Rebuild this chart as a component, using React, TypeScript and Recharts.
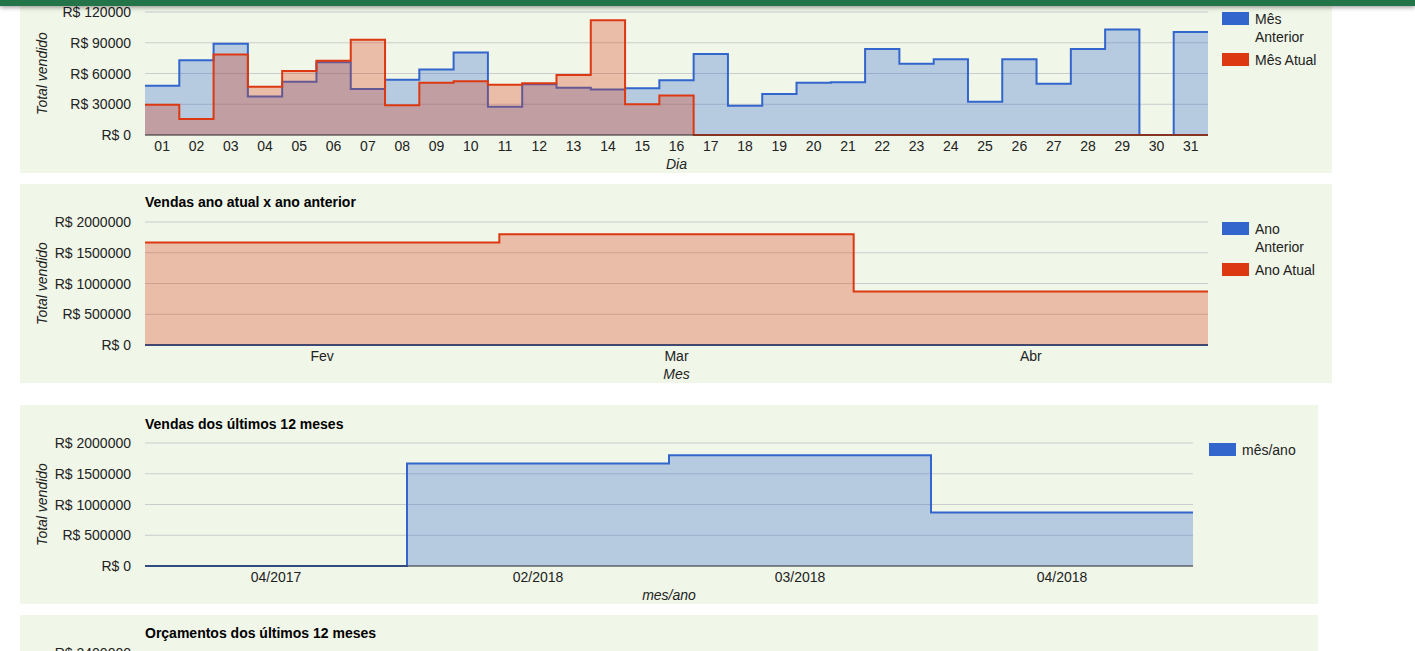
import React from "react";
import { AreaChart, Area, XAxis, YAxis, CartesianGrid, ReferenceLine } from "recharts";

const FONT = "Arial, 'Liberation Sans', sans-serif";
const BG = "#f0f6e8";
const AZUL = "#3366cc";
const VERMELHO = "#dc3912";
const TEXTO = "#222222";

// vendas por dia (mês anterior x mês atual)
const dias = [
  "01", "02", "03", "04", "05", "06", "07", "08", "09", "10",
  "11", "12", "13", "14", "15", "16", "17", "18", "19", "20",
  "21", "22", "23", "24", "25", "26", "27", "28", "29", "30", "31",
];
const mesAnterior = [
  48000, 73000, 89000, 37500, 52000, 71000, 45000, 54000, 64000, 80500,
  27500, 49500, 46000, 44500, 45500, 53500, 79000, 28500, 40000, 51000,
  51500, 84000, 69500, 74000, 32500, 74000, 50000, 84000, 103000, 0, 100500,
];
const mesAtual = [
  29500, 15500, 78500, 47000, 62500, 72500, 93000, 29000, 51000, 52500,
  49000, 50500, 58500, 112000, 30000, 38500, 0, 0, 0, 0,
  0, 0, 0, 0, 0, 0, 0, 0, 0, 0, 0,
];
const ticksDia = [0, 30000, 60000, 90000, 120000];

// ano atual x ano anterior
const meses = ["Fev", "Mar", "Abr"];
const anoAnterior = [0, 0, 0];
const anoAtual = [1665000, 1800000, 870000];
const ticksAno = [0, 500000, 1000000, 1500000, 2000000];

// últimos 12 meses
const mesAno = ["04/2017", "02/2018", "03/2018", "04/2018"];
const vendas12 = [0, 1665000, 1800000, 870000];

type Serie = { key: string; values: number[]; color: string };

// each category is a full-width step: one point per band edge
function stepRows(n: number, series: Serie[]) {
  const rows: Record<string, number>[] = [];
  for (let i = 0; i <= n; i++) {
    const row: Record<string, number> = { x: i + 0.5 };
    series.forEach((s) => {
      row[s.key] = s.values[Math.min(i, n - 1)];
    });
    rows.push(row);
  }
  return rows;
}

function StepChart({
  width,
  height,
  plotTop,
  plotRight,
  labels,
  series,
  yTicks,
  xTitle,
}: {
  width: number;
  height: number;
  plotTop: number;
  plotRight: number;
  labels: string[];
  series: Serie[];
  yTicks: number[];
  xTitle: string;
}) {
  const rows = stepRows(labels.length, series);
  return (
    <AreaChart width={width} height={height} data={rows} margin={{ top: plotTop, right: plotRight, left: 0, bottom: 0 }}>
      <CartesianGrid vertical={false} stroke="#cccccc" />
      <XAxis
        dataKey="x"
        type="number"
        domain={[0.5, labels.length + 0.5]}
        ticks={labels.map((_, i) => i + 1)}
        interval={0}
        height={38}
        tickSize={0}
        tickMargin={0}
        axisLine={false}
        tick={(p: any) => (
          <text x={p.x} y={p.y + 16} textAnchor="middle" fontFamily={FONT} fontSize={14} fill={TEXTO}>
            {labels[p.payload.value - 1]}
          </text>
        )}
        label={(p: any) => {
          const vb = p.viewBox;
          return (
            <text x={vb.x + vb.width / 2} y={vb.y + 34} textAnchor="middle" fontFamily={FONT} fontSize={14} fontStyle="italic" fill={TEXTO}>
              {xTitle}
            </text>
          );
        }}
      />
      <YAxis
        type="number"
        domain={[0, yTicks[yTicks.length - 1]]}
        ticks={yTicks}
        width={125}
        tickSize={0}
        tickMargin={14}
        axisLine={false}
        tick={(p: any) => (
          <text x={p.x} y={p.y + 5} textAnchor="end" fontFamily={FONT} fontSize={14} fill={TEXTO}>
            {`R$ ${p.payload.value}`}
          </text>
        )}
        label={(p: any) => {
          const vb = p.viewBox;
          const cx = 22;
          const cy = vb.y + vb.height / 2;
          return (
            <text
              x={cx}
              y={cy}
              transform={`rotate(-90, ${cx}, ${cy})`}
              textAnchor="middle"
              dominantBaseline="central"
              fontFamily={FONT}
              fontSize={14}
              fontStyle="italic"
              fill={TEXTO}
            >
              Total vendido
            </text>
          );
        }}
      />
      {series.map((s) => (
        <Area
          key={s.key}
          type="stepAfter"
          dataKey={s.key}
          stroke={s.color}
          strokeWidth={2}
          fill={s.color}
          fillOpacity={0.3}
          dot={false}
          activeDot={false}
          isAnimationActive={false}
        />
      ))}
      <ReferenceLine y={0} stroke="#333333" />
    </AreaChart>
  );
}

function Legenda({ left, top, color, text, maxWidth }: { left: number; top: number; color: string; text: string; maxWidth?: number }) {
  return (
    <>
      <div style={{ position: "absolute", left, top, width: 27, height: 13, background: color }} />
      <div
        style={{
          position: "absolute",
          left: left + 33,
          top: top - 2,
          maxWidth: maxWidth ?? 200,
          fontFamily: FONT,
          fontSize: 14,
          lineHeight: "18px",
          color: TEXTO,
        }}
      >
        {text}
      </div>
    </>
  );
}

function Titulo({ top, text }: { top: number; text: string }) {
  return (
    <div style={{ position: "absolute", left: 145, top, fontFamily: FONT, fontSize: 14, fontWeight: "bold", lineHeight: "16px", color: "#000", whiteSpace: "nowrap" }}>
      {text}
    </div>
  );
}

export default function App() {
  return (
    <div style={{ position: "fixed", left: 0, top: 0, width: 1415, height: 651, overflow: "hidden", background: "#ffffff" }}>
      {/* painéis */}
      <div style={{ position: "absolute", left: 20, top: -40, width: 1312, height: 213, background: BG }} />
      <div style={{ position: "absolute", left: 20, top: 184, width: 1312, height: 199, background: BG }} />
      <div style={{ position: "absolute", left: 20, top: 405, width: 1298, height: 199, background: BG }} />
      <div style={{ position: "absolute", left: 20, top: 615, width: 1298, height: 60, background: BG }} />

      {/* vendas por dia */}
      <div style={{ position: "absolute", left: 20, top: 0 }}>
        <StepChart
          width={1312}
          height={173}
          plotTop={12}
          plotRight={124}
          labels={dias}
          yTicks={ticksDia}
          xTitle="Dia"
          series={[
            { key: "anterior", values: mesAnterior, color: AZUL },
            { key: "atual", values: mesAtual, color: VERMELHO },
          ]}
        />
      </div>
      <Legenda left={1222} top={12} color={AZUL} text="Mês Anterior" maxWidth={72} />
      <Legenda left={1222} top={53} color={VERMELHO} text="Mês Atual" />

      {/* ano atual x ano anterior */}
      <Titulo top={194} text="Vendas ano atual x ano anterior" />
      <div style={{ position: "absolute", left: 20, top: 184 }}>
        <StepChart
          width={1312}
          height={199}
          plotTop={38}
          plotRight={124}
          labels={meses}
          yTicks={ticksAno}
          xTitle="Mes"
          series={[
            { key: "anterior", values: anoAnterior, color: AZUL },
            { key: "atual", values: anoAtual, color: VERMELHO },
          ]}
        />
      </div>
      <Legenda left={1222} top={222} color={AZUL} text="Ano Anterior" maxWidth={72} />
      <Legenda left={1222} top={263} color={VERMELHO} text="Ano Atual" />

      {/* últimos 12 meses */}
      <Titulo top={416} text="Vendas dos últimos 12 meses" />
      <div style={{ position: "absolute", left: 20, top: 405 }}>
        <StepChart
          width={1298}
          height={199}
          plotTop={38}
          plotRight={125}
          labels={mesAno}
          yTicks={ticksAno}
          xTitle="mes/ano"
          series={[{ key: "vendas", values: vendas12, color: AZUL }]}
        />
      </div>
      <Legenda left={1209} top={443} color={AZUL} text="mês/ano" />

      {/* orçamentos (cortado pela janela) */}
      <Titulo top={625} text="Orçamentos dos últimos 12 meses" />
      <div style={{ position: "absolute", left: 0, width: 131, top: 645, textAlign: "right", fontFamily: FONT, fontSize: 14, lineHeight: "16px", color: TEXTO }}>
        R$ 2400000
      </div>

      {/* barra do topo */}
      <div style={{ position: "absolute", left: 0, top: 0, width: 1415, height: 6, background: "#24744a", boxShadow: "0 1px 5px rgba(0,0,0,0.45)" }} />
    </div>
  );
}
